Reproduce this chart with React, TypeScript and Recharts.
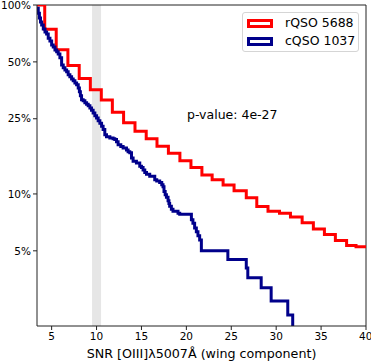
import React from 'react';
import { LineChart, Line, XAxis, YAxis, ReferenceArea, ReferenceLine } from 'recharts';

const xTicks = [5, 10, 15, 20, 25, 30, 35, 40];
const yTicks = [0.05, 0.1, 0.25, 0.5, 1];

// rQSO: SNR where each step starts, and fraction above it
const redSnr = [3.37, 4.23, 5.51, 6.81, 8.07, 9.31, 10.53, 11.76, 13.01, 14.28, 15.53, 16.73, 18.0, 19.28, 20.51, 21.73, 22.87, 24.09, 25.31, 26.67, 27.84, 29.09, 30.37, 31.59, 32.89, 34.14, 35.37, 36.59, 37.84, 38.89, 40];
const redFrac = [1.0, 0.744, 0.58, 0.478, 0.408, 0.356, 0.314, 0.271, 0.238, 0.215, 0.196, 0.179, 0.164, 0.15, 0.138, 0.126, 0.119, 0.1115, 0.104, 0.0956, 0.0857, 0.0809, 0.0791, 0.0756, 0.0703, 0.0653, 0.061, 0.0567, 0.0533, 0.0525, 0.0525];

// cQSO
const blueSnr = [3.37, 3.51, 3.64, 3.76, 3.89, 4.07, 4.26, 4.44, 4.62, 4.81, 5.0, 5.18, 5.37, 5.56, 5.73, 5.92, 6.11, 6.29, 6.48, 6.67, 6.84, 7.03, 7.22, 7.4, 7.59, 7.78, 7.96, 8.09, 8.2, 8.33, 8.51, 8.7, 8.89, 9.07, 9.26, 9.44, 9.62, 9.81, 10.0, 10.18, 10.37, 10.56, 10.73, 10.92, 11.11, 11.48, 11.84, 12.03, 12.22, 12.4, 12.7, 12.96, 13.33, 13.51, 13.7, 13.89, 14.07, 14.44, 14.81, 15.0, 15.18, 15.37, 15.56, 15.92, 16.48, 16.7, 17.03, 17.26, 17.4, 17.51, 17.64, 17.78, 17.96, 18.06, 18.14, 18.33, 18.51, 19.07, 19.26, 20.56, 20.73, 20.92, 21.11, 21.29, 21.48, 21.67, 24.62, 26.67, 26.84, 28.33, 29.44, 31.29, 31.84];
const blueFrac = [0.96, 0.904, 0.854, 0.813, 0.784, 0.747, 0.72, 0.703, 0.667, 0.645, 0.615, 0.6, 0.578, 0.565, 0.551, 0.525, 0.482, 0.465, 0.453, 0.443, 0.427, 0.417, 0.406, 0.397, 0.387, 0.378, 0.364, 0.347, 0.331, 0.315, 0.311, 0.304, 0.298, 0.293, 0.285, 0.277, 0.268, 0.259, 0.252, 0.244, 0.237, 0.228, 0.219, 0.206, 0.201, 0.198, 0.196, 0.194, 0.189, 0.182, 0.178, 0.175, 0.171, 0.167, 0.165, 0.155, 0.149, 0.146, 0.14, 0.138, 0.134, 0.13, 0.127, 0.124, 0.119, 0.117, 0.115, 0.112, 0.109, 0.103, 0.099, 0.096, 0.092, 0.089, 0.086, 0.083, 0.081, 0.079, 0.078, 0.073, 0.07, 0.066, 0.063, 0.06, 0.057, 0.05, 0.045, 0.0406, 0.036, 0.0319, 0.0271, 0.0229, 0.01];

const seriesNames = ['rQSO 5688', 'cQSO 1037'];
const seriesColors = ['#ff0000', '#00008b'];
const pValue = 'p-value: 4e-27';

const red = redSnr.map((snr, i) => ({ snr, frac: redFrac[i] }));
const blue = blueSnr.map((snr, i) => ({ snr, frac: blueFrac[i] }));

const FONT = '"DejaVu Sans", sans-serif';
const tickStyle = { fontSize: 10.5, fill: '#000', fontFamily: FONT };

export default function App() {
  return (
    <div style={{ position: 'absolute', left: 0, top: 0, width: 371, height: 364, background: '#fff', fontFamily: FONT }}>
      <LineChart width={371} height={364} data={red} margin={{ top: 5, right: 5, bottom: 0, left: 0 }}>
        <XAxis
          dataKey="snr"
          type="number"
          domain={[3.37, 40]}
          allowDataOverflow
          ticks={xTicks}
          height={38}
          tick={tickStyle}
          tickSize={4}
          tickMargin={3}
          axisLine={{ stroke: '#222' }}
          tickLine={{ stroke: '#222' }}
          label={{ value: 'SNR [OIII]λ5007Å (wing component)', position: 'insideBottom', offset: 6, fontSize: 12.7, fill: '#000', fontFamily: FONT }}
        />
        <YAxis
          type="number"
          scale="log"
          domain={[0.02, 1]}
          allowDataOverflow
          ticks={yTicks}
          width={37}
          tick={tickStyle}
          tickSize={4}
          tickMargin={2}
          axisLine={{ stroke: '#222' }}
          tickLine={{ stroke: '#222' }}
          tickFormatter={(v) => `${Math.round(v * 100)}%`}
        />
        <ReferenceLine y={1} stroke="#222" strokeWidth={1} />
        <ReferenceLine x={40} stroke="#222" strokeWidth={1} />
        <Line data={red} dataKey="frac" type="stepAfter" stroke={seriesColors[0]} strokeWidth={3} dot={false} isAnimationActive={false} />
        <Line data={blue} dataKey="frac" type="stepAfter" stroke={seriesColors[1]} strokeWidth={3} dot={false} isAnimationActive={false} />
        <ReferenceArea x1={9.5} x2={10.5} fill="#808080" fillOpacity={0.2} stroke="none" />
      </LineChart>

      <div style={{ position: 'absolute', left: 187, top: 108, fontSize: 12.5, lineHeight: '14px', color: '#000' }}>{pValue}</div>

      <div style={{ position: 'absolute', left: 242, top: 12, width: 117, height: 40, border: '1px solid #d5d5d5', borderRadius: 3, background: 'rgba(255,255,255,0.8)', boxSizing: 'border-box' }}>
        {seriesNames.map((name, i) => (
          <div key={name} style={{ position: 'absolute', left: 4, top: 3 + i * 18, height: 14, display: 'flex', alignItems: 'center' }}>
            <span style={{ display: 'block', width: 26, height: 9, border: `3px solid ${seriesColors[i]}`, boxSizing: 'border-box' }} />
            <span style={{ marginLeft: 12, fontSize: 12.5, lineHeight: '14px', color: '#000', whiteSpace: 'nowrap' }}>{name}</span>
          </div>
        ))}
      </div>
    </div>
  );
}
